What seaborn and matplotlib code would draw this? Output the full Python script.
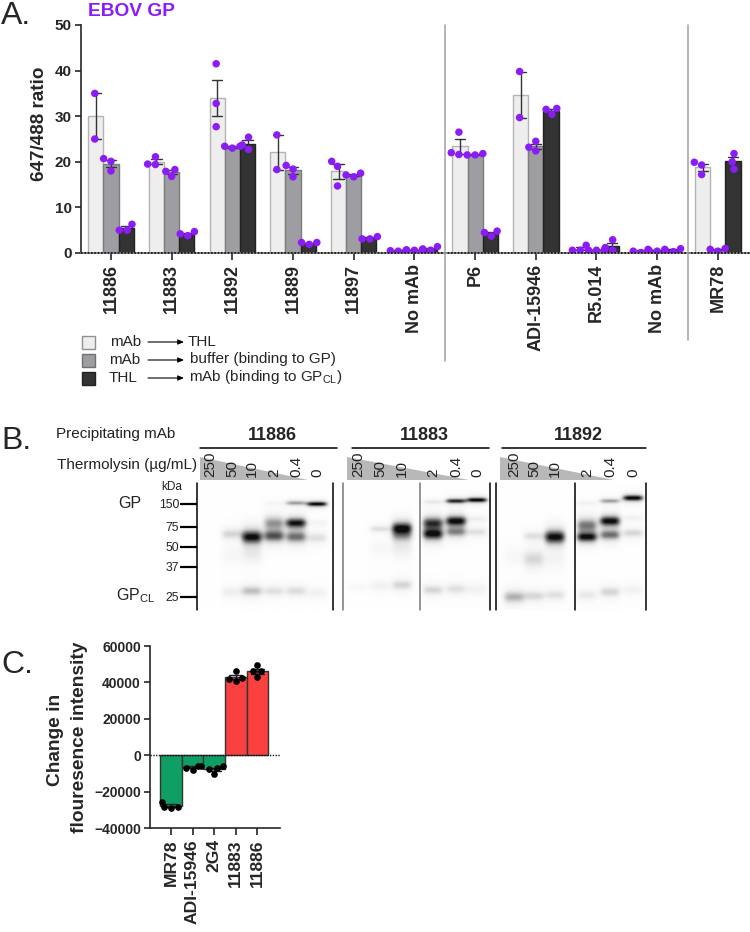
import warnings
import numpy as np
import pandas as pd
import matplotlib
matplotlib.use("Agg")
import matplotlib.pyplot as plt
from matplotlib.patches import Polygon, Rectangle
import seaborn as sns

warnings.filterwarnings("ignore")

sns.set_style("ticks")
plt.rcParams["font.family"] = ["Liberation Sans", "DejaVu Sans"]
plt.rcParams["mathtext.fontset"] = "custom"
plt.rcParams["mathtext.rm"] = "Liberation Sans"

# panel A
mabs = ["11886", "11883", "11892", "11889", "11897", "No mAb", "P6", "ADI-15946", "R5.014", "No mAb", "MR78"]
conditions = ["mAb-THL", "mAb-buffer", "THL-mAb"]
light_pts = [[35, 25], [21.1, 19.4, 19.5], [41.5, 32.8, 27.7], [25.9, 18.3], [20.1, 14.7, 19],
             [0.5, 0.6, 0.4], [26.5, 21.6, 22], [39.8, 29.7], [0.6, 1.7, 0.6],
             [0.1, 0.8, 0.4], [19.9, 17.2, 19.3]]
mid_pts = [[20.7, 18, 20.1], [18.3, 16.8, 17.9], [23, 23.4, 23.4], [19.2, 16.7, 18.4], [16.7, 17.5, 17.1],
           [0.6, 0.7, 0.7], [21.5, 21.8, 21.5], [22.4, 24.5, 23.2], [0.6, 0.7, 0.6],
           [0.4, 0.8, 0.5], [0.4, 1.0, 0.8]]
dark_pts = [[6.3, 5, 5], [3.8, 4.7, 4.2], [25.4, 22.7, 23.7], [1.9, 2.3, 2.3], [3.1, 3.6, 3.1],
            [0.9, 0.6, 1.4], [3.7, 4.8, 4.5], [30.4, 31.7, 31.5], [0.6, 2.9, 1.2],
            [0.3, 0.95, 0.5], [21.8, 20, 18.4]]

# panel C
c_mabs = ["MR78", "ADI-15946", "2G4", "11883", "11886"]
c_pts = [[-25500, -28800, -28300, -28300],
         [-8200, -5800, -7000, -5800],
         [-6000, -10400, -7000, -7700],
         [41000, 46000, 42500, 41900],
         [46200, 43100, 49300, 46000]]

# blot, pixel position of bands: lane x, row y, strength, spread
bands = [
    (232, 534, .25, 3), (232, 555, .06, 5), (232, 592, .12, 3),
    (252, 537, .95, 4), (252, 555, .12, 5), (252, 591, .35, 3),
    (274, 503, .06, 1.5), (274, 523, .45, 4), (274, 536, .7, 3.5), (274, 591, .2, 3),
    (296, 503, .45, 1.5), (296, 523, .9, 3), (296, 537, .6, 3.5), (296, 591, .22, 3),
    (317, 504, .95, 1.5), (317, 523, .08, 2), (317, 538, .2, 3), (317, 593, .1, 3),
    (358, 587, .05, 2),
    (380, 529, .2, 2), (380, 548, .05, 5), (380, 586, .1, 3),
    (402, 528, .85, 3.5), (402, 535, .4, 4), (402, 550, .1, 5), (402, 585, .25, 3),
    (433, 502, .15, 1.5), (433, 523, .75, 3.5), (433, 534, .9, 3.5), (433, 590, .25, 3),
    (456, 501, .85, 1.5), (456, 521, .95, 3), (456, 532, .5, 3), (456, 589, .2, 3),
    (477, 500, .98, 1.5), (477, 519, .12, 2), (477, 532, .2, 2.5), (477, 589, .1, 3),
    (514, 557, .06, 5), (514, 597, .4, 3.5),
    (534, 536, .2, 2.5), (534, 559, .25, 5), (534, 596, .25, 3),
    (555, 537, .95, 4), (555, 560, .08, 5), (555, 595, .2, 3),
    (587, 503, .1, 1.5), (587, 525, .55, 4), (587, 537, .9, 3), (587, 595, .15, 3),
    (610, 501, .45, 1.5), (610, 521, .95, 3), (610, 535, .6, 3), (610, 592, .25, 3),
    (633, 498, .98, 1.8), (633, 518, .1, 2), (633, 533, .25, 2.5), (633, 590, .1, 3),
]
lane_labels = ["250", "50", "10", "2", "0.4", "0"]
blot_lanes = [[210, 232, 252, 274, 296, 317],
              [358, 380, 402, 433, 456, 477],
              [514, 534, 555, 587, 610, 633]]
blot_titles = ["11886", "11883", "11892"]
mw_labels = ["150", "75", "50", "37", "25"]
mw_rows = [504, 527, 547, 567, 597]

W, H = 750, 932
fig = plt.figure(figsize=(7.5, 9.32), dpi=100)


def add_axes(x0, y0, x1, y1):
    # pixel box, y measured from the top of the figure
    return fig.add_axes([x0 / W, 1 - y1 / H, (x1 - x0) / W, (y1 - y0) / H])


# ---- A ----
rows = []
for i in range(len(mabs)):
    for cond, pts in zip(conditions, [light_pts, mid_pts, dark_pts]):
        for v in pts[i]:
            rows.append({"group": i, "cond": cond, "value": v})
df_a = pd.DataFrame(rows)

ax = add_axes(81, 25, 750, 253)
sns.barplot(data=df_a, x="group", y="value", hue="cond", hue_order=conditions,
            palette=["#eeeeee", "#9e9ea2", "#333333"], width=0.75, errorbar="se", capsize=0.5,
            err_kws={"linewidth": 1, "color": "#333333"}, saturation=1, legend=False, ax=ax)
for bar, ec in zip(ax.patches, ["#b4b4b4"] * 11 + ["#7c7c7c"] * 11 + ["#222222"] * 11):
    bar.set_edgecolor(ec)
    bar.set_linewidth(1)
sns.swarmplot(data=df_a, x="group", y="value", hue="cond", hue_order=conditions,
              palette=["#8b1cf7"] * 3, dodge=True, size=5.4, linewidth=0, legend=False, ax=ax)
ax.set_xlim(-0.494, 10.53)
ax.set_ylim(0, 50)
ax.set_yticks([0, 10, 20, 30, 40, 50])
ax.set_xticks(range(len(mabs)))
ax.set_xticklabels(mabs, rotation=90, fontsize=13, fontweight="bold")
ax.set_xlabel("")
ax.set_ylabel("647/488 ratio", fontsize=13.6, fontweight="bold")
ax.yaxis.set_label_coords(-0.05, 0.568)
ax.tick_params(axis="y", labelsize=11, width=1.2, length=4.5, pad=2)
ax.tick_params(axis="x", width=1.2, length=5, pad=3)
for t in ax.get_yticklabels():
    t.set_fontweight("bold")
sns.despine(ax=ax)
ax.spines["left"].set_linewidth(1.2)
ax.spines["bottom"].set_linewidth(1.2)
ax.spines["bottom"].set_color("#777777")
ax.axhline(0, color="#111111", lw=1.2, ls=(0, (1, 1)), clip_on=False, zorder=5)

# ---- blot ----
gel_x0, gel_x1, gel_y0, gel_y1 = 197, 646, 483, 610
xx, yy = np.meshgrid(np.arange(gel_x0, gel_x1) + 0.5, np.arange(gel_y0, gel_y1) + 0.5)
gel = np.full_like(xx, 0.015)
for bx, by, strength, spread in bands:
    across = np.exp(-((xx - bx) / 10.5) ** 4)
    core = np.exp(-((yy - by) / (spread * 1.5)) ** 2)
    halo = np.exp(-((yy - by) / (spread * 3)) ** 2)
    gel += strength * across * (0.75 * core + 0.32 * halo)
gel_ax = add_axes(gel_x0, gel_y0, gel_x1, gel_y1)
sns.heatmap(np.clip(gel, 0, 1), cmap="Greys", vmin=0, vmax=1.05, cbar=False,
            xticklabels=False, yticklabels=False, rasterized=True, ax=gel_ax)
gel_ax.set_xlabel("")
gel_ax.set_ylabel("")

# ---- C ----
rows = []
for name, pts in zip(c_mabs, c_pts):
    for v in pts:
        rows.append({"mab": name, "value": v})
df_c = pd.DataFrame(rows)

ax_c = add_axes(150, 646, 280, 828)
sns.barplot(data=df_c, x="mab", y="value", hue="mab", dodge=False, order=c_mabs, hue_order=c_mabs,
            palette=["#0f9e63"] * 3 + ["#fb4040"] * 2, width=1, errorbar="se", capsize=0.6,
            err_kws={"linewidth": 1, "color": "#222222"}, saturation=1, legend=False,
            edgecolor="#333333", linewidth=1, ax=ax_c)
sns.swarmplot(data=df_c, x="mab", y="value", order=c_mabs, color="black", size=4.8, linewidth=0, ax=ax_c)
ax_c.set_xlim(-0.97, 5.05)
ax_c.set_ylim(-40000, 60000)
ax_c.set_yticks([-40000, -20000, 0, 20000, 40000, 60000])
ax_c.set_xticks(range(len(c_mabs)))
ax_c.set_xticklabels(c_mabs, rotation=90, fontsize=12.6, fontweight="bold")
ax_c.set_xlabel("")
ax_c.set_ylabel("")
ax_c.tick_params(axis="y", labelsize=10, width=1.2, length=4.5, pad=2)
ax_c.tick_params(axis="x", width=1.2, length=5, pad=3)
for t in ax_c.get_yticklabels():
    t.set_fontweight("bold")
sns.despine(ax=ax_c)
ax_c.spines["left"].set_linewidth(1.2)
ax_c.spines["bottom"].set_linewidth(1.2)
ax_c.axhline(0, color="#111111", lw=1, ls=(0, (1, 1)), zorder=5)

# ---- annotations, in figure pixels ----
ov = fig.add_axes([0, 0, 1, 1])
ov.set_xlim(0, W)
ov.set_ylim(H, 0)
ov.axis("off")
ov.patch.set_alpha(0)

for label, y in [("A.", 24.5), ("B.", 449), ("C.", 673)]:
    ov.text(1, y, label, fontsize=23, va="baseline", ha="left")
ov.text(88, 16, "EBOV GP", color="#8b1cf7", fontsize=13.8, fontweight="bold", va="baseline")

for x, y1 in [(445, 361), (688, 340)]:
    ov.plot([x, x], [25, y1], color="#a8a8a8", lw=1.2)

ov.text(55, 740, "Change in", rotation=90, fontsize=13.8, fontweight="bold", va="center", ha="center")
ov.text(80, 737, "flouresence intensity", rotation=90, fontsize=13.8, fontweight="bold", va="center", ha="center")

# legend of panel A
legend_rows = [(342, "#eeeeee", "#909090", "mAb", 110, "THL", 188),
               (360, "#9e9ea2", "#707070", "mAb", 109, "buffer (binding to GP)", 190),
               (378, "#333333", "#222222", "THL", 109, r"mAb (binding to GP$_{\mathrm{CL}}$)", 189)]
for y, fc, ec, left, lx, right, rx in legend_rows:
    ov.add_patch(Rectangle((81.5, y - 6.5), 13.5, 13, fc=fc, ec=ec, lw=1))
    ov.text(lx, y + 0.5, left, fontsize=11, va="center")
    ov.text(rx, y - 0.5, right, fontsize=11, va="center")
    ov.annotate("", xy=(184, y), xytext=(148, y),
                arrowprops=dict(arrowstyle="-|>,head_width=0.15,head_length=0.35", color="black", lw=0.8,
                                shrinkA=0, shrinkB=0))

# blot labels
ov.text(56, 434, "Precipitating mAb", fontsize=11, va="center", color="#222222")
ov.text(57, 465, "Thermolysin (µg/mL)", fontsize=11, va="center", color="#222222")
ov.text(161, 487, "kDa", fontsize=8.5, va="center", color="#222222")
ov.text(118, 504, "GP", fontsize=11.5, va="center", color="#222222")
ov.text(116, 596, r"GP$_{\mathrm{CL}}$", fontsize=11.5, va="center", color="#222222")
for label, y in zip(mw_labels, mw_rows):
    ov.text(179, y + 1, label, fontsize=8.8, va="center", ha="right", color="#222222")
    ov.plot([180, 197], [y, y], color="black", lw=1.6, solid_capstyle="butt")

for title, lanes, (lx0, lx1), (tx0, tx1) in zip(
        blot_titles, blot_lanes, [(200, 337), (352, 489), (502, 646)], [(200, 308), (347, 469), (500, 614)]):
    ov.plot([lx0, lx1], [448, 448], color="black", lw=1.1)
    ov.text((lx0 + lx1) / 2 + 4, 436, title, fontsize=13, fontweight="bold", va="center", ha="center")
    ov.add_patch(Polygon([(tx0, 457), (tx0, 480), (tx1, 480)], fc="#b8b8b8", ec="none"))
    for lane, label in zip(lanes, lane_labels):
        ov.text(lane, 477, label, rotation=90, fontsize=11, va="bottom", ha="center", color="#222222")

for x, col in [(197, "black"), (333, "black"), (343, "#777777"), (420, "#777777"),
               (490, "black"), (496, "black"), (575, "black"), (646, "black")]:
    ov.plot([x, x], [483, 610], color=col, lw=1.1)

fig.savefig("out.png", dpi=100)
